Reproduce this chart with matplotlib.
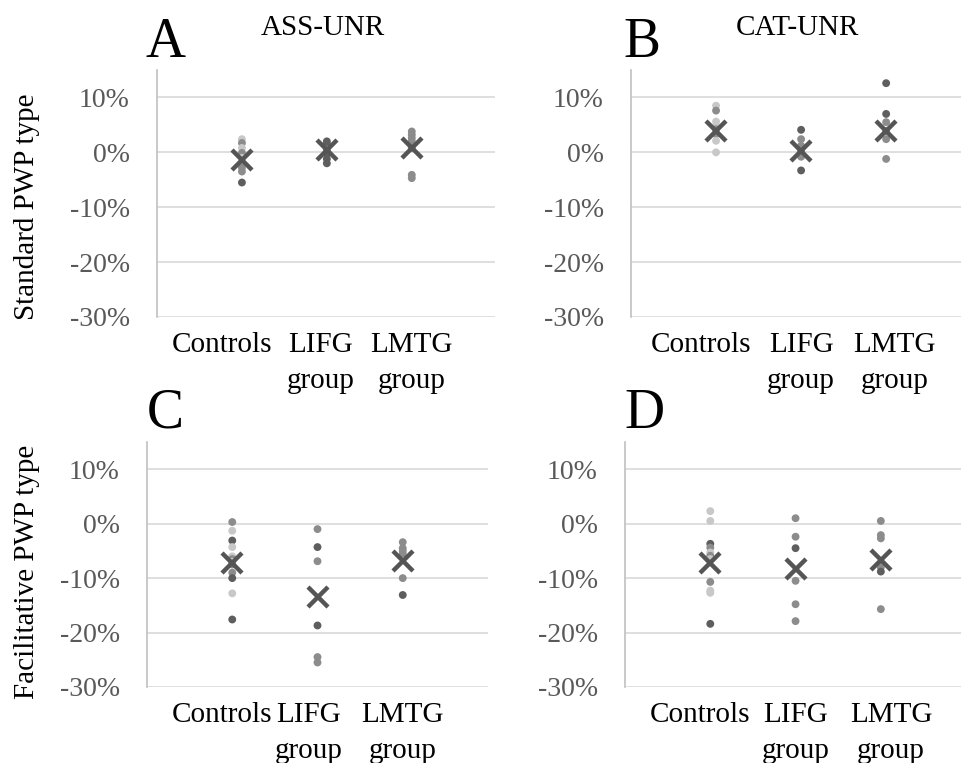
import matplotlib
matplotlib.use("Agg")
import matplotlib.pyplot as plt
from matplotlib.ticker import FuncFormatter

plt.rcParams['font.family'] = ['Liberation Serif', 'DejaVu Serif']

groups = ['Controls', 'LIFG\ngroup', 'LMTG\ngroup']
y_ticks = [10, 0, -10, -20, -30]

# percent values per participant
a_controls = [2.4, 1.7, 0.8, -0.1, -1.0, -1.9, -2.8, -3.5, -5.5]
a_lifg = [2.0, 1.5, 1.1, 0.5, -0.3, -1.2, -2.0]
a_lmtg = [3.8, 3.2, 2.6, 2.0, 0.8, -4.1, -4.7]
a_means = [-1.4, 0.5, 0.8]

b_controls = [8.5, 7.6, 5.6, 4.8, 4.2, 3.3, 2.1, 0.0]
b_lifg = [4.1, 2.4, 1.2, 0.3, -0.8, -3.3]
b_lmtg = [12.6, 7.0, 5.5, 3.9, 2.4, -1.2]
b_means = [3.9, 0.3, 3.8]

c_controls = [0.3, -1.3, -3.1, -4.3, -6.0, -6.5, -7.0, -7.5, -9.0, -10.0, -12.8, -17.6]
c_lifg = [-1.0, -4.3, -6.9, -18.7, -24.5, -25.5]
c_lmtg = [-3.4, -4.5, -5.0, -5.5, -10.0, -13.1]
c_means = [-7.3, -13.5, -6.9]

d_controls = [2.3, 0.5, -3.7, -4.4, -5.3, -5.9, -6.5, -10.7, -12.3, -12.7, -18.4]
d_lifg = [1.0, -2.4, -4.5, -10.5, -14.8, -17.9]
d_lmtg = [0.5, -2.1, -2.7, -7.5, -8.0, -8.8, -15.7]
d_means = [-7.3, -8.4, -6.7]

# grey shade of each dot (L light, M mid, D dark)
shade = {'L': '#c8c8c8', 'M': '#8c8c8c', 'D': '#5e5e5e'}
a_shades = ['LMLMLLMMD', 'DDDMDDD', 'MMMMMMM']
b_shades = ['LMLLMMLL', 'DMMMMD', 'DDMMMM']
c_shades = ['MLDLLMLMMDLD', 'MDMDMM', 'MMMMMD']
d_shades = ['LLDMLMLMLLD', 'MMDMMM', 'MMMMMDM']

fig = plt.figure(figsize=(9.65, 7.63), dpi=100)


def panel(rect, series, means, shades, letter, title, xmax, label_x, letter_xy):
    ax = fig.add_axes(rect)
    for i, vals in enumerate(series):
        cols = [shade[s] for s in shades[i]]
        ax.scatter([i + 1] * len(vals), vals, s=32, c=cols, linewidths=0, zorder=3)
    ax.plot([1, 2, 3], means, linestyle='none', marker='x', markersize=14,
            markeredgewidth=3.2, color='#555555', zorder=4)
    ax.set_xlim(0, xmax)
    ax.set_ylim(-30, 15)
    ax.set_yticks(y_ticks)
    ax.yaxis.set_major_formatter(FuncFormatter(lambda v, p: '%d%%' % v))
    ax.tick_params(axis='y', length=0, pad=19.5, labelsize=20, labelcolor='#595959')
    ax.set_xticks(label_x)
    ax.set_xticklabels(groups, fontsize=21, linespacing=1.5)
    ax.tick_params(axis='x', length=0, pad=11)
    ax.grid(axis='y', color='#d9d9d9', linewidth=1.2)
    ax.set_axisbelow(True)
    for s in ['top', 'right', 'bottom']:
        ax.spines[s].set_visible(False)
    ax.spines['left'].set_color('#c0c0c0')
    ax.spines['left'].set_linewidth(1.2)
    fig.text(letter_xy[0] / 965, 1 - letter_xy[1] / 763, letter, fontsize=40,
             ha='center', va='baseline')
    if title:
        fig.text((rect[0] + 166 / 965), 1 - 35 / 763, title, fontsize=21,
                 ha='center', va='baseline')
    return ax


panel([157 / 965, 1 - 317 / 763, 338 / 965, 247 / 763],
      [a_controls, a_lifg, a_lmtg], a_means, a_shades, 'A', 'ASS-UNR',
      3.98, [0.76, 1.93, 3.0], (165, 57))
panel([631 / 965, 1 - 317 / 763, 330 / 965, 247 / 763],
      [b_controls, b_lifg, b_lmtg], b_means, b_shades, 'B', 'CAT-UNR',
      3.88, [0.82, 2.0, 3.1], (642, 57))
panel([147 / 965, 1 - 687 / 763, 341 / 965, 245 / 763],
      [c_controls, c_lifg, c_lmtg], c_means, c_shades, 'C', None,
      4.0, [0.88, 1.9, 3.0], (165, 428))
panel([625 / 965, 1 - 687 / 763, 336 / 965, 245 / 763],
      [d_controls, d_lifg, d_lmtg], d_means, d_shades, 'D', None,
      3.94, [0.88, 2.0, 3.12], (645, 428))

fig.text(27 / 965, 1 - 207 / 763, 'Standard PWP type', fontsize=21,
         rotation=90, ha='center', va='center')
fig.text(27 / 965, 1 - 572 / 763, 'Facilitative PWP type', fontsize=21,
         rotation=90, ha='center', va='center')

fig.savefig('out.png', dpi=100)
